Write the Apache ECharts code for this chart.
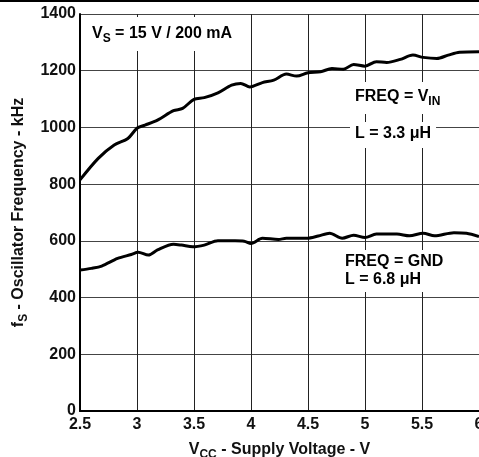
<!DOCTYPE html>
<html>
<head>
<meta charset="utf-8">
<script src="https://cdn.jsdelivr.net/npm/echarts@6/dist/echarts.min.js"></script>
<style>
html,body{margin:0;padding:0;background:#fff;}
#c{width:479px;height:457px;}
</style>
</head>
<body>
<div id="c"></div>
<script>
// Supply voltage (V) and oscillator frequency (kHz), FREQ = VIN, L = 3.3 uH
var vinX = [2.5, 2.66, 2.8, 2.92, 3.0, 3.07, 3.18, 3.32, 3.4, 3.5, 3.59, 3.71, 3.83, 3.91, 3.99, 4.1, 4.2, 4.31, 4.4, 4.5, 4.61, 4.71, 4.81, 4.9, 5.0, 5.1, 5.19, 5.31, 5.42, 5.51, 5.63, 5.73, 5.83, 6.0];
var vinY = [815, 891, 938, 961, 997, 1008, 1026, 1059, 1067, 1099, 1105, 1122, 1149, 1155, 1143, 1158, 1167, 1188, 1181, 1193, 1196, 1208, 1205, 1222, 1216, 1232, 1229, 1240, 1255, 1247, 1243, 1255, 1265, 1267];
// FREQ = GND, L = 6.8 uH
var gndX = [2.5, 2.6, 2.69, 2.83, 2.95, 3.01, 3.1, 3.18, 3.32, 3.39, 3.49, 3.59, 3.71, 3.86, 3.94, 4.0, 4.1, 4.24, 4.31, 4.49, 4.59, 4.69, 4.8, 4.9, 5.0, 5.1, 5.28, 5.39, 5.51, 5.61, 5.78, 5.89, 6.0];
var gndY = [497, 503, 511, 538, 552, 560, 550, 568, 588, 585, 579, 585, 600, 600, 599, 591, 609, 605, 609, 609, 617, 627, 609, 620, 612, 624, 624, 618, 627, 618, 629, 627, 615];
var xTicks = { min: 2.5, max: 6, interval: 0.5 };
var yTicks = { min: 0, max: 1400, interval: 200 };

function pairs(xs, ys) { return xs.map(function (x, i) { return [x, ys[i]]; }); }

var FONT = '"Liberation Sans", Arial, sans-serif';
var TXT = '#111';
var chart = echarts.init(document.getElementById('c'));
var rich = {
  a: { fontFamily: FONT, fontWeight: 'bold', fontSize: 16, color: TXT },
  s: { fontFamily: FONT, fontWeight: 'bold', fontSize: 12, color: TXT, verticalAlign: 'bottom', padding: [10, 0, 0, 0] }
};
function label(text, left, top, pad) {
  return { type: 'text', left: left, top: top, z: 10, style: {
    text: text, rich: rich, backgroundColor: '#fff', padding: pad } };
}
chart.setOption({
  animation: false,
  grid: { left: 80, right: 0, top: 14, bottom: 46, outerBoundsMode: 'none', containLabel: false },
  xAxis: {
    type: 'value', min: xTicks.min, max: xTicks.max, interval: xTicks.interval,
    axisLine: { show: true, onZero: false, lineStyle: { color: '#000', width: 2 } },
    axisTick: { show: false },
    axisLabel: { margin: 6, fontFamily: FONT, fontWeight: 'bold', fontSize: 16, color: TXT },
    splitLine: { show: true, lineStyle: { color: '#222', width: 1 } },
    name: '{a|V}{s|CC}{a| - Supply Voltage - V}',
    nameLocation: 'middle', nameGap: 28,
    nameTextStyle: { rich: rich }
  },
  yAxis: {
    type: 'value', min: yTicks.min, max: yTicks.max, interval: yTicks.interval,
    axisLine: { show: true, lineStyle: { color: '#000', width: 2 } },
    axisTick: { show: false },
    axisLabel: { margin: 4, fontFamily: FONT, fontWeight: 'bold', fontSize: 16, color: TXT,
      formatter: function (v) { return String(v); } },
    splitLine: { show: true, lineStyle: { color: '#444', width: 1 } },
    name: '{a|f}{s|S}{a| - Oscillator Frequency - kHz}',
    nameLocation: 'middle', nameGap: 43,
    nameTextStyle: { rich: rich }
  },
  series: [
    { type: 'line', data: pairs(vinX, vinY), showSymbol: false, smooth: 0.3,
      lineStyle: { color: '#000', width: 3 }, z: 3 },
    { type: 'line', data: pairs(gndX, gndY), showSymbol: false, smooth: 0.3,
      lineStyle: { color: '#000', width: 3 }, z: 3 }
  ],
  graphic: [
    { type: 'line', shape: { x1: 0, y1: 1, x2: 479, y2: 1 }, style: { stroke: '#000', lineWidth: 2 } },
    label('{a|V}{s|S}{a| = 15 V / 200 mA}', 86, 17, [6, 6, 6, 6]),
    label('{a|FREQ = V}{s|IN}', 350, 82, [4, 5, 6, 5]),
    label('{a|L = 3.3 μH}', 350, 122, [4, 5, 6, 5]),
    label('{a|FREQ = GND}', 340, 250, [4, 5, 2, 5]),
    label('{a|L = 6.8 μH}', 340, 270, [2, 5, 4, 5])
  ]
});
</script>
</body>
</html>
